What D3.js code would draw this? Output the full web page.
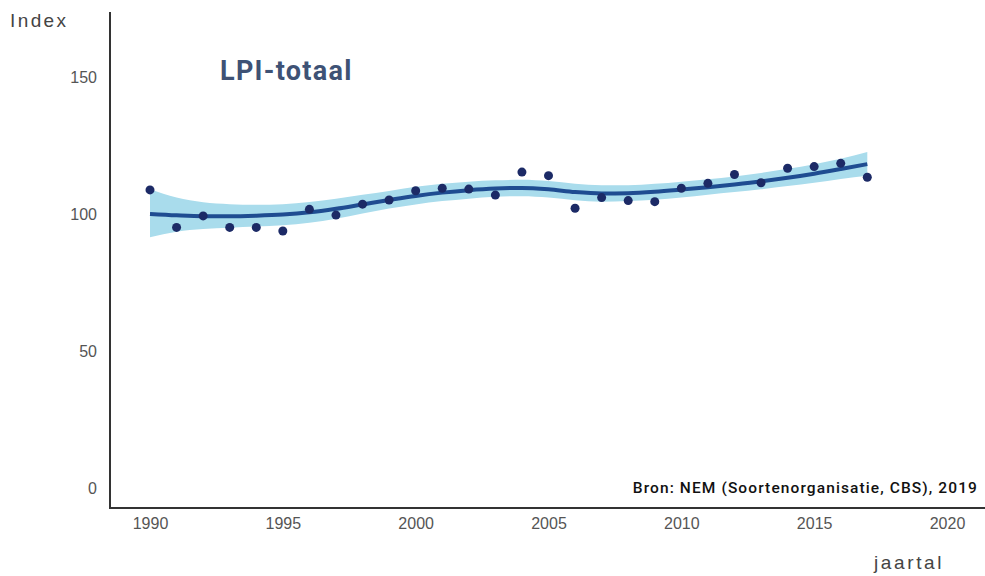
<!DOCTYPE html>
<html><head><meta charset="utf-8">
<script src="https://cdn.jsdelivr.net/npm/d3@7"></script>
<style>body{margin:0;background:#fff}svg{display:block}</style>
</head><body>
<script>
const years = d3.range(1990, 2018);
const observed = [108.8,95.1,99.3,95.1,95.1,93.8,101.7,99.6,103.6,105.1,108.5,109.4,109.1,106.9,115.3,114.0,102.1,106.0,104.9,104.5,109.4,111.2,114.4,111.4,116.7,117.3,118.5,113.4];
const trend = [100,99.5,99.2,99.2,99.4,99.8,100.6,101.9,103.5,105.1,106.6,107.8,108.7,109.3,109.5,109,108,107.5,107.6,108.1,108.9,109.8,110.8,111.9,113.2,114.7,116.4,118.2];
const lower = [91.5,93.5,94.5,95,95.4,95.9,96.8,98.3,100.2,102,103.5,104.7,105.6,106.3,106.5,106,105,104.5,104.7,105.2,106,107,108,109,110.2,111.4,112.8,114];
const upper = [109,106,104.3,103.6,103.4,103.6,104.4,105.6,107,108.4,109.9,111,111.8,112.3,112.5,112,111,110.5,110.5,111,111.8,112.7,113.7,115,116.5,118.2,120.2,122.6];
const xTicks = [1990,1995,2000,2005,2010,2015,2020];
const yTicks = [0,50,100,150];

const W=985,H=576;
const svg=d3.select("body").append("svg").attr("width",W).attr("height",H);
const x=d3.scaleLinear().domain([1990,2020]).range([150,947]);
const y=d3.scaleLinear().domain([0,150]).range([488,77]);
const data=years.map((yr,i)=>({yr,obs:observed[i],t:trend[i],lo:lower[i],hi:upper[i]}));

const tickFont="'Liberation Sans',Arial,sans-serif";
const font="Roboto,'Noto Sans',sans-serif";

svg.append("path").datum(data)
 .attr("fill","#a9dcec")
 .attr("d",d3.area().curve(d3.curveMonotoneX).x(d=>x(d.yr)).y0(d=>y(d.lo)).y1(d=>y(d.hi)));
svg.append("path").datum(data)
 .attr("fill","none").attr("stroke","#1f4c91").attr("stroke-width",4)
 .attr("d",d3.line().curve(d3.curveMonotoneX).x(d=>x(d.yr)).y(d=>y(d.t)));
svg.selectAll("circle.pt").data(data).join("circle").attr("class","pt")
 .attr("cx",d=>x(d.yr)).attr("cy",d=>y(d.obs)).attr("r",4.5).attr("fill","#1c2a66");

// axes
svg.append("line").attr("x1",110).attr("x2",110).attr("y1",12).attr("y2",509).attr("stroke","#333").attr("stroke-width",2);
svg.append("line").attr("x1",109).attr("x2",985).attr("y1",508).attr("y2",508).attr("stroke","#333").attr("stroke-width",2);

const yAxis=d3.axisLeft(y).tickValues(yTicks).tickSize(0).tickPadding(0);
const gy=svg.append("g").attr("transform","translate(97,0)").call(yAxis);
gy.select(".domain").remove();
gy.selectAll("text").attr("font-family",tickFont).attr("font-size",16).attr("fill","#555");

const xAxis=d3.axisBottom(x).tickValues(xTicks).tickFormat(d3.format("d")).tickSize(0).tickPadding(0);
const gx=svg.append("g").attr("transform","translate(0,518)").call(xAxis);
gx.select(".domain").remove();
gx.selectAll("text").attr("font-family",tickFont).attr("font-size",16).attr("fill","#555");

svg.append("text").attr("x",10).attr("y",27).text("Index").attr("font-family",tickFont).attr("font-size",19).attr("fill","#444").attr("letter-spacing","2.4");
svg.append("text").attr("x",944).attr("y",569).attr("text-anchor","end").text("jaartal").attr("font-family",tickFont).attr("font-size",19).attr("fill","#444").attr("letter-spacing","2.6");
svg.append("text").attr("x",220).attr("y",80).text("LPI-totaal").attr("font-family",font).attr("font-size",27).attr("font-weight","bold").attr("fill","#3e5275").attr("letter-spacing","1.3");
svg.append("text").attr("x",978).attr("y",493).attr("text-anchor","end").text("Bron: NEM (Soortenorganisatie, CBS), 2019").attr("font-family",font).attr("font-size",15.5).attr("font-weight","500").attr("fill","#111").attr("letter-spacing","1.1");
</script>
</body></html>
